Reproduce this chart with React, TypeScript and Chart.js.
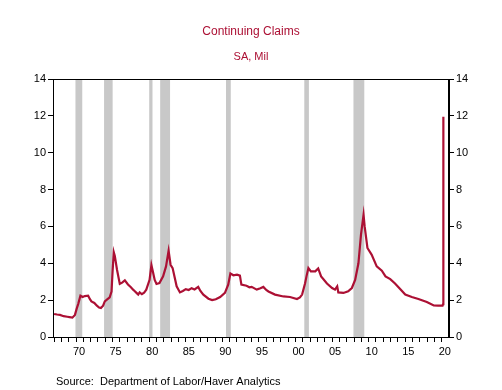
import React, { useEffect, useRef } from "react";
import { Chart, registerables } from "chart.js";

Chart.register(...registerables);

const TITLE = "Continuing Claims";
const SUBTITLE = "SA, Mil";
const SOURCE = "Source:  Department of Labor/Haver Analytics";

// decimal years
const dates: number[] = [
  1967.0, 1967.4, 1967.8, 1968.3, 1968.8, 1969.1, 1969.5, 1969.85, 1970.1, 1970.3,
  1970.6, 1970.9, 1971.2, 1971.65, 1971.9, 1972.1, 1972.5, 1972.85, 1973.15, 1973.4,
  1973.7, 1973.93, 1974.3, 1974.6, 1974.85, 1975.0, 1975.16, 1975.3, 1975.6, 1975.98,
  1976.3, 1976.67, 1977.1, 1977.5, 1977.8, 1978.0, 1978.3, 1978.5, 1978.7, 1979.0,
  1979.3, 1979.6, 1980.05, 1980.3, 1980.5, 1980.75, 1981.0, 1981.4, 1981.9, 1982.3,
  1982.65, 1982.92, 1983.2, 1983.5, 1983.75, 1984.2, 1984.6, 1985.0, 1985.4, 1985.8,
  1986.2, 1986.7, 1987.0, 1987.4, 1988.1, 1988.6, 1989.1, 1989.7, 1990.35, 1990.8,
  1991.1, 1991.5, 1992.0, 1992.4, 1992.6, 1993.3, 1993.7, 1994.0, 1994.7, 1995.2,
  1995.6, 1996.0, 1996.3, 1997.2, 1998.35, 1999.25, 2000.2, 2000.6, 2000.9, 2001.3,
  2001.5, 2001.76, 2002.1, 2002.7, 2003.1, 2003.5, 2004.3, 2005.0, 2005.4, 2005.7,
  2005.85, 2006.55, 2007.2, 2007.7, 2008.15, 2008.6, 2008.95, 2009.3, 2009.45, 2009.83,
  2010.4, 2011.1, 2011.8, 2012.3, 2012.95, 2013.6, 2014.3, 2015.0, 2015.9, 2016.8,
  2017.95, 2018.9, 2019.5, 2020.1, 2020.17, 2020.19, 2020.21, 2020.23,
];

// millions
const claims: number[] = [
  1.25, 1.22, 1.2, 1.13, 1.1, 1.08, 1.05, 1.2, 1.55, 1.8,
  2.24, 2.17, 2.22, 2.24, 2.05, 1.93, 1.85, 1.7, 1.6, 1.57,
  1.7, 1.93, 2.05, 2.15, 2.47, 3.6, 4.6, 4.4, 3.65, 2.88,
  2.95, 3.07, 2.85, 2.7, 2.57, 2.5, 2.38, 2.3, 2.42, 2.32,
  2.4, 2.57, 3.1, 3.9, 3.55, 3.1, 2.88, 2.93, 3.29, 3.83,
  4.68, 3.92, 3.74, 3.2, 2.75, 2.42, 2.5, 2.6, 2.55, 2.65,
  2.58, 2.72, 2.5, 2.3, 2.08, 2.0, 2.05, 2.17, 2.39, 2.84,
  3.45, 3.35, 3.38, 3.33, 2.84, 2.78, 2.7, 2.72, 2.57, 2.65,
  2.72, 2.55, 2.47, 2.3, 2.2, 2.17, 2.06, 2.15, 2.3, 2.9,
  3.29, 3.74, 3.56, 3.56, 3.72, 3.29, 2.9, 2.66, 2.57, 2.75,
  2.42, 2.39, 2.48, 2.66, 3.1, 4.0, 5.55, 6.63, 6.0, 4.83,
  4.47, 3.83, 3.6, 3.29, 3.14, 2.9, 2.6, 2.3, 2.17, 2.06,
  1.9, 1.71, 1.7, 1.7, 1.78, 3.0, 7.4, 11.95,
];

const recessionStarts: number[] = [1969.92, 1973.83, 1980.0, 1981.5, 1990.5, 2001.2, 2007.92];
const recessionEnds: number[] = [1970.85, 1975.0, 1980.45, 1982.85, 1991.15, 2001.83, 2009.4];

const yTicks: number[] = [0, 2, 4, 6, 8, 10, 12, 14];
const tickYears: number[] = Array.from({ length: 54 }, (_, i) => 1967 + i);

const RED = "#AC1034";
const FONT = "'Liberation Sans', Arial, sans-serif";

export default function App() {
  const ref = useRef<HTMLCanvasElement | null>(null);

  useEffect(() => {
    if (!ref.current) return;
    const bgPlugin = {
      id: "recessions",
      beforeDatasetsDraw(chart: any) {
        const { ctx, chartArea, scales } = chart;
        ctx.save();
        ctx.fillStyle = "#C8C8C8";
        for (let i = 0; i < recessionStarts.length; i++) {
          const x1 = scales.x.getPixelForValue(recessionStarts[i]);
          const x2 = scales.x.getPixelForValue(recessionEnds[i]);
          ctx.fillRect(x1, chartArea.top, x2 - x1, chartArea.bottom - chartArea.top);
        }
        ctx.restore();
      },
      afterDraw(chart: any) {
        const { ctx, chartArea } = chart;
        ctx.save();
        ctx.strokeStyle = "#000";
        ctx.lineWidth = 1;
        ctx.strokeRect(
          Math.round(chartArea.left) + 0.5,
          Math.round(chartArea.top) + 0.5,
          Math.round(chartArea.right - chartArea.left) - 1,
          Math.round(chartArea.bottom - chartArea.top)
        );
        ctx.fillStyle = RED;
        ctx.textAlign = "center";
        ctx.textBaseline = "middle";
        ctx.font = `12px ${FONT}`;
        ctx.fillText(TITLE, 251, 32);
        ctx.font = `11px ${FONT}`;
        ctx.fillText(SUBTITLE, 251, 57);
        ctx.fillStyle = "#000";
        ctx.textAlign = "left";
        ctx.font = `11px ${FONT}`;
        ctx.fillText(SOURCE, 56, 382);
        ctx.restore();
      },
    };

    const axisGrid = { display: true, drawOnChartArea: false, drawTicks: true, tickLength: 5, color: "#000" };
    const tickFont = { family: FONT, size: 11 };

    const chart = new Chart(ref.current, {
      type: "line",
      data: {
        datasets: [
          {
            data: dates.map((d, i) => ({ x: d, y: claims[i] })),
            borderColor: RED,
            borderWidth: 2.2,
            pointRadius: 0,
            tension: 0,
            yAxisID: "y",
          },
        ],
      },
      options: {
        responsive: false,
        animation: false,
        layout: { padding: { top: 79, bottom: 0, left: 0, right: 0 } },
        plugins: { legend: { display: false }, tooltip: { enabled: false }, title: { display: false } },
        scales: {
          x: {
            type: "linear",
            min: 1966.85,
            max: 2020.98,
            afterBuildTicks(scale: any) {
              scale.ticks = tickYears.map((v) => ({ value: v }));
            },
            afterFit(scale: any) {
              scale.height = 53;
            },
            grid: axisGrid,
            border: { display: true, color: "#000" },
            ticks: {
              autoSkip: false,
              maxRotation: 0,
              labelOffset: 3,
              padding: 3,
              color: "#000",
              font: tickFont,
              callback(v: any) {
                const n = Math.round(Number(v));
                return n % 5 === 0 ? String(n % 100).padStart(2, "0") : "";
              },
            },
          },
          y: {
            position: "left",
            min: 0,
            max: 14,
            afterBuildTicks(scale: any) {
              scale.ticks = yTicks.map((v) => ({ value: v }));
            },
            afterFit(scale: any) {
              scale.width = 53;
            },
            grid: axisGrid,
            border: { display: true, color: "#000" },
            ticks: { padding: 2, color: "#000", font: tickFont },
          },
          y2: {
            position: "right",
            min: 0,
            max: 14,
            afterBuildTicks(scale: any) {
              scale.ticks = yTicks.map((v) => ({ value: v }));
            },
            afterFit(scale: any) {
              scale.width = 53;
            },
            grid: axisGrid,
            border: { display: true, color: "#000" },
            ticks: { padding: 2, color: "#000", font: tickFont },
          },
        },
      },
      plugins: [bgPlugin],
    } as any);
    return () => chart.destroy();
  }, []);

  return (
    <div style={{ position: "absolute", left: 0, top: 0, width: 502, height: 390, background: "#fff" }}>
      <canvas ref={ref} width={502} height={390} style={{ display: "block" }} />
    </div>
  );
}
